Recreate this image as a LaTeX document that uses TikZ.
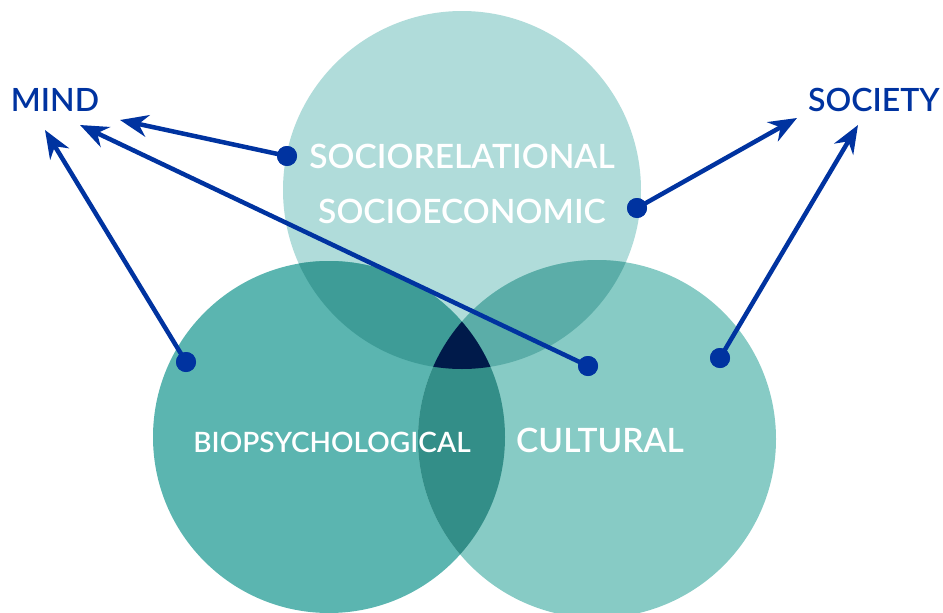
\documentclass[tikz,border=0pt]{standalone}
\usepackage{fontspec}
\setmainfont{Lato}
\newfontfamily\labelfont{Lato Semibold}
\usepackage{xcolor}
\usetikzlibrary{arrows.meta,scopes}
\definecolor{soc}{HTML}{B0DCDA}
\definecolor{bio}{HTML}{5BB5B0}
\definecolor{cul}{HTML}{87CBC5}
\definecolor{socbio}{HTML}{3E9C97}
\definecolor{soccul}{HTML}{5BADA8}
\definecolor{biocul}{HTML}{338E88}
\definecolor{core}{HTML}{001A4A}
\definecolor{ink}{HTML}{0033A0}

\begin{document}
\begin{tikzpicture}[x=1pt, y=-1pt,
	dot/.style={circle, fill=ink, inner sep=0pt, minimum size=20pt},
	link/.style={ink, line width=4.5pt, -{Stealth[length=28pt, width=22pt, inset=9pt]}},
	big/.style={font=\labelfont\fontsize{32}{32}\selectfont},
	inlabel/.style={white, font=\labelfont\fontsize{33.5}{33.5}\selectfont}]
\useasboundingbox (0,0) rectangle (943,613);
% circles
\fill[soc] (462,190) circle [radius=179pt];
\fill[bio] (329,437) circle [radius=176pt];
\fill[cul] (597,439) circle [radius=179pt];
\begin{scope}
  \clip (462,190) circle [radius=179pt];
  \fill[socbio] (329,437) circle [radius=176pt];
  \fill[soccul] (597,439) circle [radius=179pt];
\end{scope}
\begin{scope}
  \clip (329,437) circle [radius=176pt];
  \fill[biocul] (597,439) circle [radius=179pt];
  \clip (462,190) circle [radius=179pt];
  \fill[core] (597,439) circle [radius=179pt];
\end{scope}
% labels
\node[ink, big] (mind) at (55,100) {MIND};
\node[ink, big] (society) at (874,100) {SOCIETY};
\node[inlabel] (rel) at (462,156) {SOCIORELATIONAL};
\node[inlabel] (eco) at (462,211) {SOCIOECONOMIC};
\node[white, font=\labelfont\fontsize{28}{28}\selectfont] (biopsy) at (332,442) {BIOPSYCHOLOGICAL};
\node[inlabel] (cult) at (600,440) {CULTURAL};
% arrow tips
\coordinate (m1) at (120,120);
\coordinate (m2) at (80,125);
\coordinate (m3) at (45,130);
\coordinate (s1) at (797,118);
\coordinate (s2) at (858,125);
% dots
\node[dot] (drel) at (287,156) {};
\node[dot] (dcul) at (588,366) {};
\node[dot] (dbio) at (186,362) {};
\node[dot] (deco) at (637,208) {};
\node[dot] (dcul2) at (720,358) {};
\draw[link] (drel.center) -- (m1);
\draw[link] (dcul.center) -- (m2);
\draw[link] (dbio.center) -- (m3);
\draw[link] (deco.center) -- (s1);
\draw[link] (dcul2.center) -- (s2);
\foreach \d in {drel,dcul,dbio,deco,dcul2}
	\fill[ink] (\d) circle [radius=10pt];
\end{tikzpicture}
\end{document}
